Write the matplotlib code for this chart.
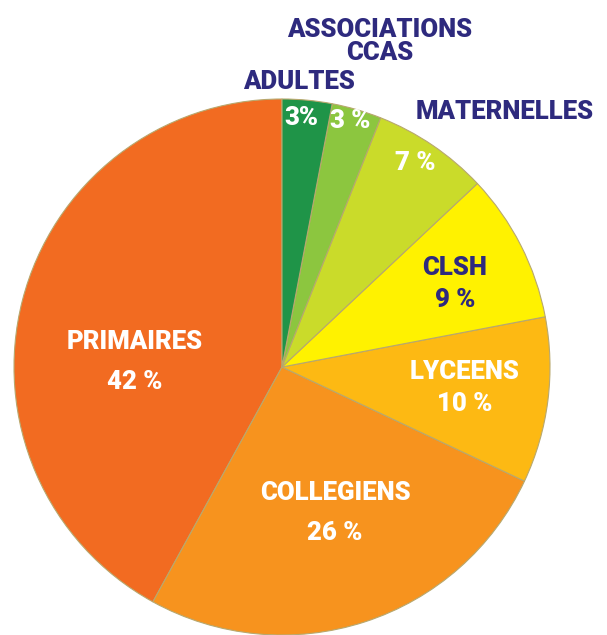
import matplotlib.pyplot as plt

plt.rcParams['font.family'] = ['Roboto', 'DejaVu Sans']

# données (sens anti-horaire depuis le haut)
labels = ['PRIMAIRES', 'COLLEGIENS', 'LYCEENS', 'CLSH', 'MATERNELLES', 'CCAS', 'ADULTES']
values = [42, 26, 10, 9, 7, 3, 3]
colors = ['#F26B21', '#F7931E', '#FDB913', '#FFF200', '#CADB2A', '#8CC63F', '#1F9448']

navy = '#2E2A7E'

fig = plt.figure(figsize=(6.07, 6.35), dpi=100)
ax = fig.add_axes([0, 0, 1, 1])

ax.pie(values, colors=colors, startangle=90, counterclock=True,
       center=(282, 268), radius=268, frame=True,
       wedgeprops=dict(edgecolor='#B8A86E', linewidth=0.8))
ax.set_xlim(0, 607)
ax.set_ylim(0, 635)
ax.axis('off')


def txt(x, y, s, c='white', size=18.5):
    # x, y en pixels depuis le coin haut-gauche
    ax.text(x, 635 - y, s, color=c, fontsize=size, fontweight='heavy',
            ha='center', va='center')


# étiquettes intérieures
txt(135, 342, 'PRIMAIRES')
txt(135, 382, '42 %')
txt(335, 493, 'COLLEGIENS')
txt(335, 533, '26 %')
txt(465, 372, 'LYCEENS')
txt(465, 404, '10 %')
txt(455, 268, 'CLSH', c=navy)
txt(455, 300, '9 %', c=navy)
txt(415, 163, '7 %')
txt(350, 121, '3 %')
txt(301, 118, '3%')

# étiquettes extérieures
txt(299, 82, 'ADULTES', c=navy)
txt(380, 30, 'ASSOCIATIONS', c=navy)
txt(380, 53, 'CCAS', c=navy)
txt(505, 112, 'MATERNELLES', c=navy)

plt.savefig('out.png', dpi=100)
